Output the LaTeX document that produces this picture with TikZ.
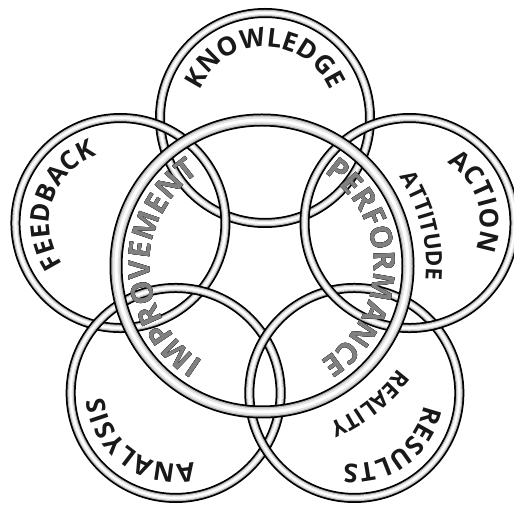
\documentclass[tikz,border=0pt]{standalone}
\usepackage{fontspec}
\setmainfont{Open Sans}
\usetikzlibrary{decorations.text}

\newcommand\outerfont{\fontsize{26}{26}\selectfont\bfseries}
\newcommand\innerfont{\fontsize{30}{30}\selectfont\bfseries}
\newcommand\sidefont{\fontsize{22.5}{22.5}\selectfont\bfseries}

\tikzset{
    ring/.style={draw=black, line width=10pt,
        postaction={draw=gray!60, line width=6.5pt},
        postaction={draw=gray!20, line width=4.5pt},
        postaction={draw=white, line width=2pt}},
    bigring/.style={draw=black, line width=13pt,
        postaction={draw=gray!60, line width=9.5pt},
        postaction={draw=gray!20, line width=7pt},
        postaction={draw=white, line width=3pt}},
    ringtext/.style={decorate, decoration={text along path, text align=center, text color=black!90}}
}

\begin{document}
\begin{tikzpicture}[x=1pt, y=1pt]
\useasboundingbox (0,0) rectangle (514,506);

% Centres
\coordinate (mid) at (265,236);
\coordinate (core) at (262,240);

% Outer circles
\foreach \name/\ang in {know/90, feed/162, anal/234, res/306, act/18} {
    \path (mid) ++(\ang:152) coordinate (\name);
    \draw[ring] (\name) circle[radius=105];
}

% Central circle
\draw[bigring] (core) circle[radius=146];

% Labels of the outer circles
\foreach \name/\ang/\word in {know/90/KNOWLEDGE, feed/162/FEEDBACK, anal/234/ANALYSIS, res/306/RESULTS, act/18/ACTION}
    \path[ringtext, decoration={text/.expanded={|\noexpand\outerfont|\word}}]
        (\name) ++({\ang+90}:71) arc[start angle=\ang+90, end angle=\ang-90, radius=71];

% Labels beside the central circle
\path[ringtext, decoration={text={|\sidefont|ATTITUDE}}]
    (core) ++(104:164) arc[start angle=104, end angle=-76, radius=164];
\path[ringtext, decoration={text={|\sidefont|REALITY}}]
    (core) ++(38:171) arc[start angle=38, end angle=-142, radius=171];

% Labels inside the central circle
\foreach \dx/\dy in {-1.2/0, 1.2/0, 0/-1.2, 0/1.2} {
    \path[ringtext, transform canvas={shift={(\dx,\dy)}}, decoration={text={|\innerfont|IMPROVEMENT}}]
        (core) ++(271:112) arc[start angle=271, end angle=91, radius=112];
    \path[ringtext, transform canvas={shift={(\dx,\dy)}}, decoration={text={|\innerfont|PERFORMANCE}}]
        (core) ++(89:112) arc[start angle=89, end angle=-91, radius=112];
}
\path[ringtext, decoration={text color=black!50, text={|\innerfont|IMPROVEMENT}}]
    (core) ++(271:112) arc[start angle=271, end angle=91, radius=112];
\path[ringtext, decoration={text color=black!50, text={|\innerfont|PERFORMANCE}}]
    (core) ++(89:112) arc[start angle=89, end angle=-91, radius=112];

\end{tikzpicture}
\end{document}
